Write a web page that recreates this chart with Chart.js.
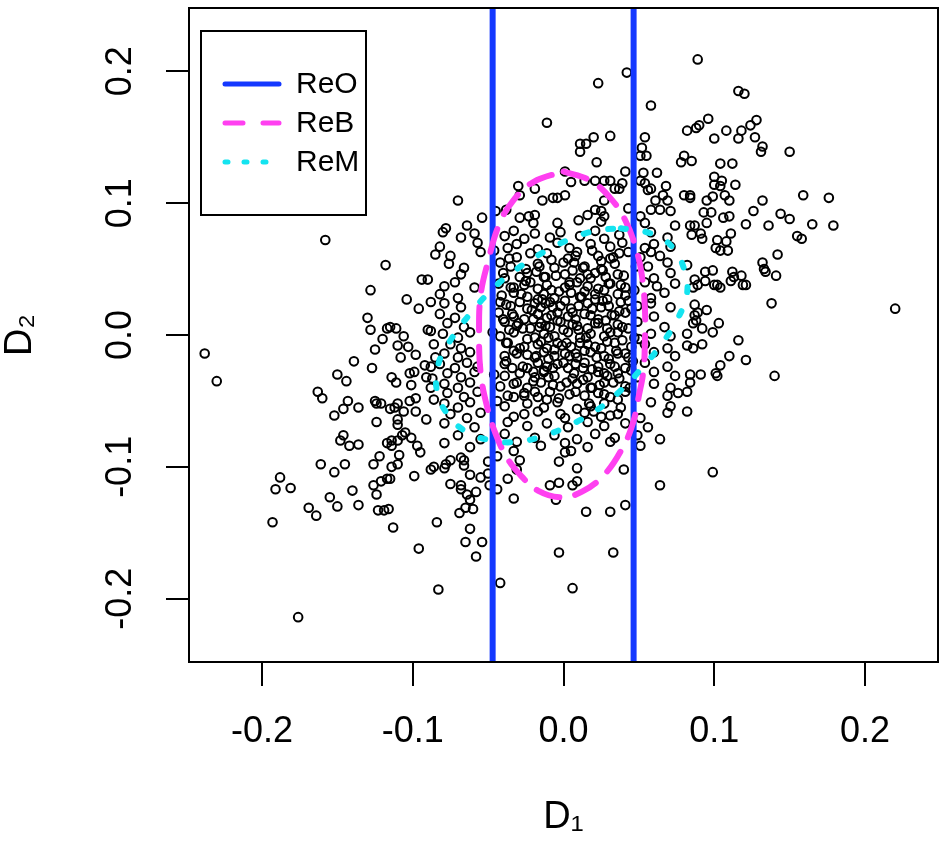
<!DOCTYPE html>
<html>
<head>
<meta charset="utf-8">
<script src="https://cdn.jsdelivr.net/npm/chart.js@4.4.1/dist/chart.umd.min.js"></script>
<style>
  html, body { margin: 0; padding: 0; background: #fff; }
  #wrap { width: 946px; height: 844px; }
</style>
</head>
<body>
<div id="wrap"><canvas id="scatterChart"></canvas></div>
<script>
// axis ticks and limits
const xTicks = [-0.2, -0.1, 0.0, 0.1, 0.2];
const yTicks = [-0.2, -0.1, 0.0, 0.1, 0.2];
const xLimits = [-0.2484, 0.2484];
const yLimits = [-0.248, 0.248];

const legendLabels = ['ReO', 'ReB', 'ReM'];

// ReO: two vertical bounds on D1
const reoBounds = [-0.047, 0.0465];

// ReB / ReM outlines as [D1, D2]
const rebCurve = [[0.000,0.124],[0.018,0.117],[0.031,0.104],[0.041,0.087],[0.048,0.066],[0.052,0.045],[0.054,0.020],[0.054,-0.004],[0.053,-0.027],[0.050,-0.046],[0.046,-0.067],[0.039,-0.086],[0.027,-0.106],[0.012,-0.119],[-0.002,-0.123],[-0.017,-0.118],[-0.028,-0.107],[-0.037,-0.094],[-0.045,-0.075],[-0.051,-0.053],[-0.055,-0.028],[-0.056,0.000],[-0.055,0.030],[-0.050,0.056],[-0.043,0.083],[-0.034,0.101],[-0.020,0.116],[0.000,0.124]];
const remCurve = [[0.038,0.081],[0.058,0.077],[0.072,0.067],[0.080,0.050],[0.082,0.032],[0.076,0.013],[0.065,-0.007],[0.052,-0.025],[0.038,-0.042],[0.022,-0.057],[0.005,-0.068],[-0.012,-0.076],[-0.030,-0.081],[-0.048,-0.080],[-0.065,-0.073],[-0.077,-0.060],[-0.084,-0.042],[-0.083,-0.022],[-0.075,-0.004],[-0.062,0.016],[-0.047,0.035],[-0.031,0.050],[-0.013,0.063],[0.005,0.073],[0.021,0.079],[0.038,0.081]];

// scatter points [D1, D2], grouped by region
const ptsUpper = [[0.042,0.199],[0.023,0.191],[0.058,0.174],[-0.011,0.161],[0.020,0.150],[0.031,0.151],[0.011,0.145],[0.015,0.145],[0.011,0.139],[0.054,0.150],[0.052,0.142],[0.051,0.136],[0.055,0.136],[0.022,0.131],[0.041,0.124],[0.053,0.123],[0.062,0.123],[0.078,0.131],[0.080,0.136],[0.082,0.155],
  [-0.030,0.113],[-0.029,0.106],[-0.019,0.111],[-0.038,0.095],[-0.045,0.094],[-0.054,0.089],[-0.064,0.083],[-0.078,0.081],[-0.070,0.102],[-0.029,0.089],[-0.023,0.090],[-0.019,0.091],[-0.020,0.085],[-0.014,0.102],[-0.007,0.104],[-0.004,0.104],[0.001,0.106],[0.005,0.116],[0.001,0.124],[-0.004,0.085],[0.010,0.087],[0.014,0.117],[0.021,0.117],[0.027,0.117],[0.031,0.117],[0.034,0.111],[0.037,0.111],[0.039,0.115],[0.027,0.102],[0.021,0.095],[0.025,0.094],[0.027,0.090],[0.025,0.086],[0.016,0.091],[0.043,0.096],[0.051,0.117],[0.054,0.115],[0.056,0.110],[0.058,0.111],[0.068,0.113],[0.066,0.106],[0.069,0.102],[0.061,0.102],[0.058,0.095],[0.064,0.095],[0.071,0.094],[0.051,0.090],[0.054,0.085],[0.074,0.083],[0.080,0.106],
  [0.089,0.209],[0.116,0.185],[0.120,0.183],[0.096,0.164],[0.088,0.157],[0.090,0.159],[0.100,0.149],[0.108,0.155],[0.118,0.155],[0.116,0.149],[0.124,0.159],[0.128,0.163],[0.127,0.150],[0.132,0.143],[0.131,0.139],[0.150,0.139],[0.085,0.132],[0.104,0.130],[0.112,0.130],[0.100,0.120],[0.105,0.117],[0.100,0.114],[0.104,0.113],[0.114,0.114],[0.084,0.106],[0.084,0.104],[0.099,0.105],[0.095,0.102],[0.107,0.106],[0.110,0.102],[0.132,0.102],[0.159,0.106],[0.176,0.104],[0.093,0.093],[0.098,0.093],[0.106,0.089],[0.110,0.090],[0.126,0.094],[0.144,0.092],[0.150,0.088],[0.121,0.084],[0.136,0.083],[0.165,0.084],[0.179,0.083],[0.095,0.085],[0.084,0.083],[0.087,0.083]];

const ptsLeft = [[-0.158,0.072],[-0.118,0.053],[-0.094,0.042],[-0.090,0.042],[-0.128,0.034],[-0.104,0.027],[-0.088,0.025],[-0.096,0.020],[-0.085,0.061],[-0.130,0.013],[-0.128,0.004],[-0.117,0.005],[-0.115,0.006],[-0.111,0.005],[-0.120,-0.003],[-0.106,-0.001],[-0.110,-0.008],[-0.103,-0.009],[-0.090,0.004],[-0.088,0.003],[-0.086,-0.007],[-0.125,-0.011],[-0.108,-0.017],[-0.098,-0.015],[-0.238,-0.014],[-0.230,-0.035],[-0.139,-0.020],[-0.127,-0.025],[-0.150,-0.030],[-0.144,-0.035],[-0.114,-0.032],[-0.111,-0.036],[-0.102,-0.029],[-0.099,-0.028],[-0.101,-0.038],[-0.092,-0.023],[-0.088,-0.024],[-0.091,-0.032],[-0.087,-0.033],[-0.088,-0.040],[-0.085,-0.017],[-0.163,-0.043],[-0.160,-0.048],[-0.143,-0.050],[-0.146,-0.056],[-0.136,-0.055],[-0.152,-0.061],[-0.125,-0.050],[-0.124,-0.052],[-0.121,-0.052],[-0.115,-0.056],[-0.110,-0.052],[-0.112,-0.055],[-0.106,-0.058],[-0.102,-0.050],[-0.098,-0.048],[-0.098,-0.058],[-0.086,-0.049],[-0.124,-0.066],[-0.110,-0.064],[-0.110,-0.068],[-0.091,-0.064],[-0.146,-0.076],[-0.148,-0.080],[-0.142,-0.084],[-0.136,-0.083],[-0.117,-0.082],[-0.114,-0.080],[-0.110,-0.080],[-0.107,-0.076],[-0.105,-0.074],[-0.101,-0.078],[-0.097,-0.084],[-0.114,-0.084],
  [-0.188,-0.108],[-0.191,-0.117],[-0.181,-0.116],[-0.193,-0.142],[-0.176,-0.214],[-0.161,-0.098],[-0.152,-0.104],[-0.145,-0.098],[-0.169,-0.131],[-0.164,-0.137],[-0.155,-0.123],[-0.150,-0.130],[-0.140,-0.118],[-0.136,-0.129],[-0.126,-0.098],[-0.122,-0.092],[-0.114,-0.100],[-0.110,-0.098],[-0.109,-0.091],[-0.126,-0.114],[-0.121,-0.111],[-0.117,-0.109],[-0.115,-0.109],[-0.124,-0.121],[-0.123,-0.133],[-0.119,-0.133],[-0.116,-0.132],[-0.113,-0.146],[-0.099,-0.107],[-0.096,-0.162],[-0.095,-0.089],[-0.088,-0.102],[-0.086,-0.100],[-0.084,-0.142],[-0.083,-0.193]];

const ptsRight = [[0.085,0.076],[0.091,0.077],[0.092,0.073],[0.111,0.077],[0.102,0.072],[0.108,0.071],[0.101,0.066],[0.104,0.064],[0.109,0.064],[0.155,0.075],[0.158,0.073],[0.142,0.061],[0.132,0.055],[0.133,0.050],[0.134,0.048],[0.141,0.045],[0.094,0.048],[0.099,0.049],[0.082,0.053],[0.087,0.042],[0.094,0.041],[0.089,0.038],[0.086,0.036],[0.100,0.038],[0.104,0.036],[0.102,0.038],[0.112,0.048],[0.118,0.045],[0.111,0.041],[0.113,0.044],[0.119,0.038],[0.121,0.038],[0.138,0.024],[0.220,0.020],[0.087,0.023],[0.095,0.019],[0.087,0.015],[0.089,0.017],[0.086,0.009],[0.088,0.011],[0.092,0.005],[0.082,0.001],[0.103,0.009],[0.099,0.002],[0.116,-0.004],[0.092,-0.007],[0.086,-0.010],[0.082,-0.008],[0.110,-0.016],[0.104,-0.023],[0.121,-0.019],[0.101,-0.029],[0.102,-0.031],[0.091,-0.030],[0.084,-0.030],[0.084,-0.036],[0.140,-0.031],[0.082,-0.043],[0.082,-0.058],[0.099,-0.104]];

const ptsLower = [[-0.078,-0.098],[-0.075,-0.095],[-0.079,-0.101],[-0.068,-0.093],[-0.066,-0.095],[-0.066,-0.099],[-0.062,-0.106],[-0.055,-0.108],[-0.075,-0.113],[-0.068,-0.114],[-0.068,-0.117],[-0.064,-0.121],[-0.058,-0.119],[-0.062,-0.125],[-0.065,-0.131],[-0.060,-0.132],[-0.069,-0.135],[-0.062,-0.147],[-0.065,-0.157],[-0.054,-0.157],[-0.058,-0.168],[-0.050,-0.096],[-0.049,-0.114],[-0.044,-0.117],[-0.044,-0.092],[-0.050,-0.105],[-0.042,-0.188],[-0.033,-0.088],[-0.029,-0.095],[-0.031,-0.102],[-0.037,-0.109],[-0.033,-0.124],[-0.003,-0.096],[0.001,-0.089],[0.005,-0.088],[-0.009,-0.114],[-0.003,-0.112],[-0.005,-0.125],[0.009,-0.101],[0.009,-0.111],[0.006,-0.114],[0.015,-0.134],[0.031,-0.134],[0.041,-0.129],[0.040,-0.102],[0.064,-0.114],[-0.003,-0.165],[0.033,-0.165],[0.006,-0.192]];

const ptsMidTop = [[-0.080,0.078],[-0.068,0.074],[-0.059,0.077],[-0.039,0.075],[-0.033,0.079],[-0.026,0.073],[-0.019,0.077],[-0.009,0.074],[-0.002,0.078],[0.011,0.075],[0.021,0.079],[0.027,0.073],[0.037,0.076],[0.058,0.078],[0.069,0.074],
  [-0.082,0.067],[-0.057,0.070],[-0.037,0.066],[-0.031,0.069],[-0.017,0.065],[-0.004,0.070],[0.004,0.066],[0.018,0.069],[0.031,0.067],[0.039,0.070],[0.054,0.066],[0.060,0.069],[0.071,0.067],
  [-0.075,0.060],[-0.055,0.063],[-0.031,0.059],[-0.011,0.062],[0.003,0.058],[0.009,0.063],[0.023,0.060],[0.031,0.058],[0.037,0.062],[0.051,0.059],[0.058,0.063],[0.064,0.060],
  [-0.076,0.054],[-0.066,0.051],[-0.042,0.055],[-0.035,0.052],[-0.025,0.050],[-0.017,0.054],[-0.006,0.051],[0.007,0.055],[0.014,0.052],[0.025,0.050],[0.034,0.054],[0.056,0.052],[0.069,0.055],
  [-0.068,0.046],[-0.039,0.043],[-0.024,0.047],[-0.013,0.044],[0.001,0.046],[0.011,0.043],[0.021,0.047],[0.028,0.044],[0.036,0.046],[0.060,0.043],[0.071,0.047],
  [-0.079,0.037],[-0.072,0.040],[-0.059,0.036],[-0.043,0.039],[-0.033,0.036],[-0.022,0.040],[-0.017,0.035],[-0.011,0.038],[0.001,0.036],[0.009,0.040],[0.016,0.037],[0.023,0.035],[0.031,0.039],[0.041,0.036],[0.054,0.040],[0.062,0.037],[0.074,0.039],
  [-0.082,0.031],[-0.070,0.028],[-0.033,0.032],[-0.024,0.029],[-0.017,0.027],[-0.013,0.031],[-0.006,0.028],[0.005,0.032],[0.011,0.029],[0.021,0.031],[0.029,0.027],[0.041,0.030],[0.058,0.028],[0.067,0.032],
  [-0.079,0.024],[-0.068,0.021],[-0.042,0.025],[-0.035,0.022],[-0.024,0.020],[-0.019,0.024],[-0.015,0.021],[-0.009,0.025],[-0.002,0.022],[0.005,0.020],[0.016,0.024],[0.025,0.021],[0.038,0.025],[0.049,0.022],[0.058,0.024],[0.071,0.021],
  [-0.082,0.016],[-0.072,0.013],[-0.043,0.017],[-0.033,0.014],[-0.026,0.012],[-0.017,0.016],[-0.011,0.013],[-0.004,0.017],[0.003,0.014],[0.014,0.016],[0.023,0.012],[0.034,0.015],[0.041,0.017],[0.060,0.014],
  [-0.077,0.009],[-0.066,0.006],[-0.039,0.010],[-0.031,0.007],[-0.022,0.005],[-0.015,0.009],[-0.009,0.006],[-0.002,0.010],[0.009,0.007],[0.021,0.009],[0.029,0.005],[0.036,0.008],[0.049,0.010],[0.067,0.006]];

const ptsMidBottom = [[-0.080,0.001],[-0.070,-0.002],[-0.062,0.002],[-0.042,-0.001],[-0.033,0.002],[-0.019,-0.002],[-0.013,0.001],[-0.006,-0.001],[0.003,0.002],[0.011,-0.002],[0.018,0.001],[0.027,-0.001],[0.036,0.002],[0.047,-0.002],[0.058,0.001],[0.071,-0.001],
  [-0.075,-0.007],[-0.068,-0.010],[-0.037,-0.006],[-0.026,-0.009],[-0.017,-0.007],[-0.011,-0.010],[-0.004,-0.006],[0.005,-0.009],[0.016,-0.007],[0.025,-0.010],[0.034,-0.006],[0.045,-0.009],[0.054,-0.007],[0.069,-0.010],
  [-0.079,-0.014],[-0.070,-0.017],[-0.062,-0.013],[-0.039,-0.016],[-0.031,-0.014],[-0.019,-0.017],[-0.013,-0.013],[-0.006,-0.016],[0.001,-0.014],[0.009,-0.017],[0.018,-0.013],[0.027,-0.016],[0.036,-0.014],[0.043,-0.017],[0.060,-0.013],[0.074,-0.016],
  [-0.082,-0.022],[-0.072,-0.025],[-0.064,-0.021],[-0.057,-0.024],[-0.039,-0.022],[-0.024,-0.025],[-0.017,-0.021],[-0.011,-0.024],[-0.004,-0.022],[0.003,-0.025],[0.014,-0.021],[0.023,-0.024],[0.031,-0.022],[0.041,-0.025],[0.054,-0.021],[0.069,-0.024],
  [-0.077,-0.029],[-0.068,-0.032],[-0.059,-0.028],[-0.039,-0.031],[-0.029,-0.029],[-0.019,-0.032],[-0.013,-0.028],[-0.006,-0.031],[0.007,-0.029],[0.016,-0.032],[0.023,-0.028],[0.029,-0.031],[0.036,-0.029],[0.049,-0.032],[0.060,-0.028],[0.074,-0.031],
  [-0.079,-0.037],[-0.070,-0.040],[-0.062,-0.036],[-0.042,-0.039],[-0.033,-0.037],[-0.024,-0.040],[-0.015,-0.036],[-0.002,-0.039],[0.009,-0.037],[0.018,-0.040],[0.027,-0.036],[0.041,-0.039],[0.060,-0.037],[0.071,-0.040],
  [-0.077,-0.044],[-0.066,-0.047],[-0.057,-0.043],[-0.037,-0.046],[-0.026,-0.044],[-0.017,-0.047],[-0.009,-0.043],[0.014,-0.046],[0.023,-0.044],[0.031,-0.047],[0.041,-0.043],[0.069,-0.046],[0.076,-0.044],
  [-0.079,-0.052],[-0.070,-0.055],[-0.062,-0.051],[-0.039,-0.054],[-0.024,-0.052],[-0.013,-0.055],[-0.004,-0.051],[0.018,-0.054],[0.027,-0.052],[0.038,-0.055],[0.058,-0.051],[0.071,-0.054],
  [-0.075,-0.060],[-0.064,-0.063],[-0.055,-0.059],[-0.033,-0.062],[-0.026,-0.060],[0.001,-0.063],[0.014,-0.059],[0.025,-0.062],[0.036,-0.060],[0.051,-0.063],[0.069,-0.059],
  [-0.079,-0.067],[-0.059,-0.070],[-0.037,-0.066],[-0.024,-0.069],[-0.011,-0.067],[0.003,-0.070],[0.016,-0.066],[0.027,-0.069],[0.041,-0.067],[0.056,-0.070],
  [-0.070,-0.076],[-0.055,-0.079],[-0.039,-0.075],[-0.019,-0.078],[-0.006,-0.076],[0.009,-0.079],[0.021,-0.075],[0.034,-0.078],[0.049,-0.076],[0.064,-0.079],
  [-0.079,-0.082],[-0.062,-0.085],[-0.031,-0.081],[-0.015,-0.084],[0.001,-0.082],[0.016,-0.085],[0.031,-0.081],[0.051,-0.084]];

const ptsCore = [[-0.025,0.041],[-0.012,0.044],[0.004,0.040],[0.018,0.043],[0.030,0.039],
  [-0.028,0.031],[-0.014,0.027],[-0.003,0.033],[0.012,0.029],[0.026,0.026],[0.036,0.031],
  [-0.021,0.019],[-0.007,0.021],[0.006,0.017],[0.019,0.020],[0.032,0.015],
  [-0.030,0.009],[-0.016,0.006],[-0.004,0.011],[0.010,0.004],[0.023,0.009],[0.039,0.006],
  [-0.024,-0.003],[-0.010,-0.002],[0.002,-0.006],[0.015,-0.002],[0.029,-0.005],
  [-0.033,-0.012],[-0.018,-0.016],[-0.006,-0.011],[0.008,-0.014],[0.022,-0.017],[0.035,-0.012],
  [-0.027,-0.024],[-0.013,-0.027],[0.000,-0.021],[0.013,-0.025],[0.027,-0.029],
  [-0.020,-0.035],[-0.007,-0.038],[0.006,-0.033],[0.019,-0.040],[0.033,-0.036],
  [-0.026,-0.046],[-0.011,-0.049],[0.004,-0.045],[0.017,-0.052],
  [-0.016,0.052],[0.000,0.055],[0.013,0.051],[0.025,0.056],
  [-0.040,0.012],[-0.038,-0.020],[-0.041,0.030],[0.045,0.020],[0.046,-0.020],[0.044,-0.040],[-0.044,-0.050]];

const ptsCoreDense = [[-0.036,0.058],[-0.022,0.062],[-0.008,0.057],[0.008,0.060],[0.019,0.064],[0.033,0.059],[0.043,0.063],
  [-0.040,0.047],[-0.029,0.044],[-0.018,0.048],[-0.005,0.045],[0.006,0.049],[0.016,0.046],[0.026,0.049],[0.040,0.045],
  [-0.035,0.036],[-0.026,0.038],[-0.008,0.034],[0.004,0.038],[0.014,0.033],[0.027,0.034],[0.038,0.038],[0.047,0.034],
  [-0.038,0.023],[-0.029,0.025],[-0.012,0.024],[0.001,0.026],[0.010,0.022],[0.021,0.027],[0.030,0.022],[0.043,0.026],
  [-0.034,0.016],[-0.020,0.012],[-0.008,0.015],[0.008,0.012],[0.018,0.015],[0.028,0.011],[0.037,0.018],
  [-0.036,0.004],[-0.027,0.005],[-0.012,0.007],[0.000,0.004],[0.006,0.008],[0.016,0.005],[0.031,0.002],[0.043,0.005],
  [-0.038,-0.006],[-0.029,-0.010],[-0.015,-0.005],[-0.001,-0.008],[0.011,-0.006],[0.021,-0.009],[0.039,-0.004],
  [-0.024,-0.015],[-0.010,-0.018],[0.004,-0.016],[0.014,-0.012],[0.030,-0.018],[0.041,-0.014],
  [-0.034,-0.025],[-0.020,-0.028],[-0.007,-0.025],[0.008,-0.022],[0.019,-0.026],[0.034,-0.024],[0.045,-0.027],
  [-0.031,-0.036],[-0.010,-0.032],[0.002,-0.036],[0.013,-0.034],[0.024,-0.038],[0.037,-0.033],
  [-0.033,-0.047],[-0.019,-0.043],[-0.003,-0.048],[0.008,-0.043],[0.027,-0.045],[0.036,-0.049],
  [-0.017,-0.058],[-0.002,-0.060],[0.009,-0.056],[0.020,-0.058],[0.031,-0.061],
  [-0.046,0.064],[0.048,0.052],[0.050,-0.003],[-0.046,-0.030],[-0.047,0.002]];

let ScatterD = function () {
    const fontFamily = '"Liberation Sans", Arial, Helvetica, sans-serif';
    const colReO = '#1438ff';
    const colReB = '#ff40f0';
    const colReM = '#14e4f0';
    const toXY = p => ({ x: p[0], y: p[1] });

    // frame round the plot and the legend box in its top left corner
    const framePlugin = {
        id: 'frame',
        afterDatasetsDraw(chart) {
            const ctx = chart.ctx;
            const a = chart.chartArea;
            ctx.save();
            ctx.strokeStyle = '#000';
            ctx.lineWidth = 2;
            ctx.strokeRect(a.left, a.top, a.right - a.left, a.bottom - a.top);

            const bx = a.left + 12, by = a.top + 23;
            ctx.strokeRect(bx, by, 165, 184);
            const styles = [
                { color: colReO, dash: [] },
                { color: colReB, dash: [18, 20] },
                { color: colReM, dash: [3, 16] }
            ];
            ctx.font = '30px ' + fontFamily;
            ctx.textBaseline = 'middle';
            ctx.textAlign = 'left';
            legendLabels.forEach((lab, i) => {
                const y = by + 53 + i * 39;
                ctx.beginPath();
                ctx.strokeStyle = styles[i].color;
                ctx.lineWidth = 5;
                ctx.lineCap = 'round';
                ctx.setLineDash(styles[i].dash);
                ctx.moveTo(bx + 24, y);
                ctx.lineTo(bx + 78, y);
                ctx.stroke();
                ctx.setLineDash([]);
                ctx.fillStyle = '#000';
                ctx.fillText(lab, bx + 95, y + 1);
            });
            ctx.restore();
        }
    };

    let _ScatterD = function () {
        const points = [].concat(ptsUpper, ptsLeft, ptsRight, ptsLower, ptsMidTop, ptsMidBottom, ptsCore, ptsCoreDense).map(toXY);
        const lineBase = { showLine: true, pointRadius: 0, pointHoverRadius: 0, fill: false, borderWidth: 6 };

        const data = {
            datasets: [
                {
                    label: 'points',
                    data: points,
                    pointRadius: 4.3,
                    pointBorderWidth: 2,
                    pointBorderColor: '#000',
                    pointBackgroundColor: 'rgba(0,0,0,0)',
                    showLine: false,
                    order: 4
                },
                Object.assign({}, lineBase, {
                    label: legendLabels[0],
                    data: [{ x: reoBounds[0], y: yLimits[0] }, { x: reoBounds[0], y: yLimits[1] }],
                    borderColor: colReO,
                    order: 3
                }),
                Object.assign({}, lineBase, {
                    label: legendLabels[0] + ' upper',
                    data: [{ x: reoBounds[1], y: yLimits[0] }, { x: reoBounds[1], y: yLimits[1] }],
                    borderColor: colReO,
                    order: 3
                }),
                Object.assign({}, lineBase, {
                    label: legendLabels[1],
                    data: rebCurve.map(toXY),
                    borderColor: colReB,
                    borderDash: [24, 16],
                    borderCapStyle: 'round',
                    tension: 0.4,
                    order: 2
                }),
                Object.assign({}, lineBase, {
                    label: legendLabels[2],
                    data: remCurve.map(toXY),
                    borderColor: colReM,
                    borderDash: [5, 20],
                    borderCapStyle: 'round',
                    tension: 0.4,
                    order: 1
                })
            ]
        };

        const options = {
            responsive: true,
            maintainAspectRatio: false,
            animation: false,
            layout: { padding: { top: 8, right: 8, left: 0, bottom: 0 } },
            plugins: {
                legend: { display: false },
                tooltip: { enabled: false }
            },
            scales: {
                x: {
                    type: 'linear',
                    min: xLimits[0],
                    max: xLimits[1],
                    afterBuildTicks: s => { s.ticks = xTicks.map(v => ({ value: v })); },
                    afterFit: s => { s.height = 182; s.paddingLeft = 0; s.paddingRight = 0; },
                    border: { display: false },
                    grid: { drawOnChartArea: false, drawTicks: true, tickLength: 24, color: '#000', lineWidth: 2 },
                    ticks: {
                        color: '#000',
                        padding: 24,
                        maxRotation: 0,
                        font: { family: fontFamily, size: 36 },
                        callback: v => v.toFixed(1)
                    },
                    title: {
                        display: true,
                        text: 'D₁',
                        color: '#000',
                        font: { family: fontFamily, size: 38 },
                        padding: { top: 0, bottom: 4 }
                    }
                },
                y: {
                    type: 'linear',
                    min: yLimits[0],
                    max: yLimits[1],
                    afterBuildTicks: s => { s.ticks = yTicks.map(v => ({ value: v })); },
                    afterFit: s => { s.width = 189; s.paddingTop = 0; s.paddingBottom = 0; },
                    border: { display: false },
                    grid: { drawOnChartArea: false, drawTicks: true, tickLength: 23, color: '#000', lineWidth: 2 },
                    ticks: {
                        color: '#000',
                        padding: 14,
                        minRotation: 90,
                        maxRotation: 90,
                        crossAlign: 'center',
                        font: { family: fontFamily, size: 36 },
                        callback: v => v.toFixed(1)
                    },
                    title: {
                        display: true,
                        text: 'D₂',
                        color: '#000',
                        font: { family: fontFamily, size: 38 },
                        padding: { top: -2, bottom: 0 }
                    }
                }
            }
        };

        const ctx = document.getElementById('scatterChart').getContext('2d');
        new Chart(ctx, { type: 'scatter', data: data, options: options, plugins: [framePlugin] });
    };
    return {
        init: () => {
            _ScatterD();
        }
    }
}();
document.addEventListener('DOMContentLoaded', function () {
    ScatterD.init();
})
</script>
</body>
</html>
